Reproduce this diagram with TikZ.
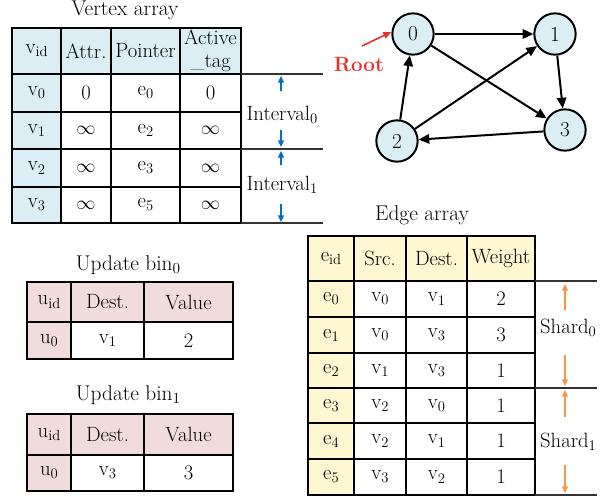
\documentclass[tikz,border=0pt]{standalone}
\usetikzlibrary{calc,arrows.meta}
\definecolor{vblue}{HTML}{DAEEF3}
\definecolor{eyel}{HTML}{FFF7D1}
\definecolor{upink}{HTML}{F2DCDB}
\definecolor{arrblue}{HTML}{0070C0}
\definecolor{arrorange}{HTML}{F79646}
\definecolor{rootred}{HTML}{E8302A}
\newcommand\tcell[7]{%
  \filldraw[fill=#6, draw=black, line width=0.8pt] (#2,#3) rectangle (#4,#5);
  \node[celltext] (#1) at ($(#2,#3)!0.5!(#4,#5)$) {#7};}
\newcommand\sbx[1]{\raisebox{-0.35ex}{\fontsize{11}{12}\selectfont #1}}
\newcommand\mv[2]{#1\sbx{#2}}
\tikzset{
  celltext/.style={inner sep=0pt, align=center},
  titletext/.style={font=\fontsize{16}{18}\selectfont},
  gnode/.style={circle, draw=black, line width=1.5pt, fill=vblue, minimum size=31pt, inner sep=0pt, font=\fontsize{16}{18}\selectfont},
  garrow/.style={line width=1.5pt, -{Triangle[length=8pt,width=7pt]}},
  bluearr/.style={draw=arrblue, line width=0.9pt, -{Triangle[length=5pt,width=4.5pt]}},
  orarr/.style={draw=arrorange, line width=0.9pt, -{Triangle[length=5pt,width=4.5pt]}},
  extline/.style={line width=0.8pt, draw=black!80},
  hdrline/.style={line width=1.6pt},
}
\begin{document}
\begin{tikzpicture}[x=0.75pt,y=-0.75pt,font=\fontsize{15.5}{17}\selectfont]
\useasboundingbox (0,0) rectangle (608,496);
% ---------------- Vertex array
\node[titletext] (vtitle) at (125,10) {Vertex array};
\tcell{vh0}{12}{28}{61}{74}{vblue}{\mv{v}{id}}
\tcell{vh1}{61}{28}{111}{74}{vblue}{Attr.}
\tcell{vh2}{111}{28}{180}{74}{vblue}{Pointer}
\tcell{vh3}{180}{28}{241}{74}{vblue}{\fontsize{15.5}{15}\selectfont Active\\\_tag}
\tcell{v00}{12}{74}{61}{112}{vblue}{\mv{v}{0}}
\tcell{v01}{61}{74}{111}{112}{white}{0}
\tcell{v02}{111}{74}{180}{112}{white}{\mv{e}{0}}
\tcell{v03}{180}{74}{241}{112}{white}{0}
\tcell{v10}{12}{112}{61}{149}{vblue}{\mv{v}{1}}
\tcell{v11}{61}{112}{111}{149}{white}{$\infty$}
\tcell{v12}{111}{112}{180}{149}{white}{\mv{e}{2}}
\tcell{v13}{180}{112}{241}{149}{white}{$\infty$}
\tcell{v20}{12}{149}{61}{187}{vblue}{\mv{v}{2}}
\tcell{v21}{61}{149}{111}{187}{white}{$\infty$}
\tcell{v22}{111}{149}{180}{187}{white}{\mv{e}{3}}
\tcell{v23}{180}{149}{241}{187}{white}{$\infty$}
\tcell{v30}{12}{187}{61}{223}{vblue}{\mv{v}{3}}
\tcell{v31}{61}{187}{111}{223}{white}{$\infty$}
\tcell{v32}{111}{187}{180}{223}{white}{\mv{e}{5}}
\tcell{v33}{180}{187}{241}{223}{white}{$\infty$}
\draw[hdrline] (12,74) -- (241,74);
\draw[extline] (241,74) -- (323,74);
\draw[extline] (241,149) -- (323,149);
\draw[extline] (241,223) -- (323,223);
\node (int0) at (282,115) {\mv{Interval}{0}};
\node (int1) at (282,185) {\mv{Interval}{1}};
\coordinate (i0a) at (281,91); \coordinate (i0b) at (281,76);
\coordinate (i0c) at (281,130); \coordinate (i0d) at (281,147);
\coordinate (i1a) at (281,165); \coordinate (i1b) at (281,151);
\coordinate (i1c) at (281,204); \coordinate (i1d) at (281,222);
\draw[bluearr] (i0a) -- (i0b);
\draw[bluearr] (i0c) -- (i0d);
\draw[bluearr] (i1a) -- (i1b);
\draw[bluearr] (i1c) -- (i1d);
% ---------------- Graph
\node[gnode] (g0) at (413,34) {0};
\node[gnode] (g1) at (555,34) {1};
\node[gnode] (g2) at (397,141) {2};
\node[gnode] (g3) at (565,130) {3};
\draw[garrow] (g0) -- (g1);
\draw[garrow] (g0) -- (g3);
\draw[garrow] (g2) -- (g0);
\draw[garrow] (g2) -- (g1);
\draw[garrow] (g1) -- (g3);
\draw[garrow] (g3) -- (g2);
\node[text=rootred, font=\fontsize{15.5}{17}\selectfont\bfseries] (root) at (359,65) {Root};
\coordinate (rootst) at (362,46);
\draw[draw=rootred, line width=1.2pt, -{Triangle[length=6pt,width=5pt]}] (rootst) -- (g0.west|-392,32);
% ---------------- Update bins
\node[titletext] (u0title) at (128,265) {Update bin\raisebox{-0.35ex}{\fontsize{11.5}{12}\selectfont 0}};
\tcell{ua0}{27}{282}{71}{322}{upink}{\mv{u}{id}}
\tcell{ua1}{71}{282}{144}{322}{upink}{Dest.}
\tcell{ua2}{144}{282}{233}{322}{upink}{Value}
\tcell{ub0}{27}{322}{71}{359}{upink}{\mv{u}{0}}
\tcell{ub1}{71}{322}{144}{359}{white}{\mv{v}{1}}
\tcell{ub2}{144}{322}{233}{359}{white}{2}
\draw[hdrline] (27,322) -- (233,322);
\node[titletext] (u1title) at (128,395) {Update bin\raisebox{-0.35ex}{\fontsize{11.5}{12}\selectfont 1}};
\tcell{uc0}{27}{414}{71}{455}{upink}{\mv{u}{id}}
\tcell{uc1}{71}{414}{144}{455}{upink}{Dest.}
\tcell{uc2}{144}{414}{233}{455}{upink}{Value}
\tcell{ud0}{27}{455}{71}{491}{upink}{\mv{u}{0}}
\tcell{ud1}{71}{455}{144}{491}{white}{\mv{v}{3}}
\tcell{ud2}{144}{455}{233}{491}{white}{3}
\draw[hdrline] (27,455) -- (233,455);
% ---------------- Edge array
\node[titletext] (etitle) at (422,215) {Edge array};
\tcell{eh0}{308}{236}{354}{281}{eyel}{\mv{e}{id}}
\tcell{eh1}{354}{236}{406}{281}{eyel}{Src.}
\tcell{eh2}{406}{236}{467}{281}{eyel}{Dest.}
\tcell{eh3}{467}{236}{535}{281}{eyel}{Weight}
\tcell{e00}{308}{281}{354}{317}{eyel}{\mv{e}{0}}
\tcell{e01}{354}{281}{406}{317}{white}{\mv{v}{0}}
\tcell{e02}{406}{281}{467}{317}{white}{\mv{v}{1}}
\tcell{e03}{467}{281}{535}{317}{white}{2}
\tcell{e10}{308}{317}{354}{353}{eyel}{\mv{e}{1}}
\tcell{e11}{354}{317}{406}{353}{white}{\mv{v}{0}}
\tcell{e12}{406}{317}{467}{353}{white}{\mv{v}{3}}
\tcell{e13}{467}{317}{535}{353}{white}{3}
\tcell{e20}{308}{353}{354}{388}{eyel}{\mv{e}{2}}
\tcell{e21}{354}{353}{406}{388}{white}{\mv{v}{1}}
\tcell{e22}{406}{353}{467}{388}{white}{\mv{v}{3}}
\tcell{e23}{467}{353}{535}{388}{white}{1}
\tcell{e30}{308}{388}{354}{423}{eyel}{\mv{e}{3}}
\tcell{e31}{354}{388}{406}{423}{white}{\mv{v}{2}}
\tcell{e32}{406}{388}{467}{423}{white}{\mv{v}{0}}
\tcell{e33}{467}{388}{535}{423}{white}{1}
\tcell{e40}{308}{423}{354}{459}{eyel}{\mv{e}{4}}
\tcell{e41}{354}{423}{406}{459}{white}{\mv{v}{2}}
\tcell{e42}{406}{423}{467}{459}{white}{\mv{v}{1}}
\tcell{e43}{467}{423}{535}{459}{white}{1}
\tcell{e50}{308}{459}{354}{495}{eyel}{\mv{e}{5}}
\tcell{e51}{354}{459}{406}{495}{white}{\mv{v}{3}}
\tcell{e52}{406}{459}{467}{495}{white}{\mv{v}{2}}
\tcell{e53}{467}{459}{535}{495}{white}{1}
\draw[hdrline] (308,281) -- (535,281);
\draw[extline] (535,281) -- (597,281);
\draw[extline] (535,388) -- (597,388);
\draw[extline] (535,495) -- (597,495);
\node (sh0) at (568,328) {\mv{Shard}{0}};
\node (sh1) at (568,442) {\mv{Shard}{1}};
\coordinate (s0a) at (565,310); \coordinate (s0b) at (565,284);
\coordinate (s0c) at (565,355); \coordinate (s0d) at (565,386);
\coordinate (s1a) at (565,417); \coordinate (s1b) at (565,390);
\coordinate (s1c) at (565,465); \coordinate (s1d) at (565,493);
\draw[orarr] (s0a) -- (s0b);
\draw[orarr] (s0c) -- (s0d);
\draw[orarr] (s1a) -- (s1b);
\draw[orarr] (s1c) -- (s1d);
\end{tikzpicture}
\end{document}
